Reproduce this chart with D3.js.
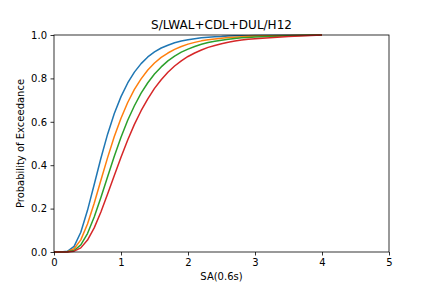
<!DOCTYPE html>
<html>
<head>
<meta charset="utf-8">
<script src="https://cdn.jsdelivr.net/npm/d3@7"></script>
<style>
  body { margin: 0; background: #fff; }
  svg text { font-family: "DejaVu Sans", sans-serif; fill: #000; }
</style>
</head>
<body>
<div id="chart"></div>
<script>
(function () {

// intensity measure values (x)
const sa = [0, 0.1, 0.2, 0.3, 0.4, 0.5, 0.6, 0.7, 0.8, 0.9, 1.0,
  1.1, 1.2, 1.3, 1.4, 1.5, 1.6, 1.7, 1.8, 1.9, 2.0,
  2.1, 2.2, 2.3, 2.4, 2.5, 2.6, 2.7, 2.8, 2.9, 3.0, 3.5, 4.0];

// probability of exceedance, one list per curve
const blue = [0, 0, 0.003, 0.026, 0.091, 0.192, 0.311, 0.432, 0.543, 0.638, 0.716,
  0.779, 0.829, 0.868, 0.899, 0.922, 0.940, 0.953, 0.964, 0.972, 0.978,
  0.983, 0.987, 0.990, 0.992, 0.993, 0.995, 0.996, 0.997, 0.997, 0.998, 0.999, 1.0];
const orange = [0, 0, 0.001, 0.015, 0.056, 0.129, 0.225, 0.331, 0.435, 0.532, 0.616,
  0.689, 0.749, 0.798, 0.839, 0.871, 0.897, 0.917, 0.934, 0.947, 0.958,
  0.966, 0.973, 0.978, 0.982, 0.985, 0.988, 0.990, 0.992, 0.994, 0.995, 0.998, 1.0];
const green = [0, 0, 0.001, 0.007, 0.033, 0.085, 0.161, 0.251, 0.347, 0.441, 0.529,
  0.607, 0.674, 0.732, 0.780, 0.820, 0.853, 0.881, 0.903, 0.921, 0.935,
  0.947, 0.957, 0.965, 0.971, 0.976, 0.980, 0.984, 0.987, 0.989, 0.991, 0.996, 1.0];
const red = [0, 0, 0, 0.004, 0.019, 0.055, 0.111, 0.184, 0.267, 0.353, 0.437,
  0.516, 0.588, 0.651, 0.706, 0.754, 0.794, 0.828, 0.857, 0.881, 0.901,
  0.917, 0.931, 0.943, 0.952, 0.960, 0.967, 0.972, 0.977, 0.980, 0.983, 0.993, 1.0];

const series = [blue, orange, green, red];
const colors = ["#1f77b4", "#ff7f0e", "#2ca02c", "#d62728"];

const xTicks = [0, 1, 2, 3, 4, 5];
const yTicks = [0, 0.2, 0.4, 0.6, 0.8, 1.0];

const W = 432, H = 288;
const margin = {top: 35, right: 43, bottom: 36, left: 54};
const width = W - margin.left - margin.right,
  height = H - margin.top - margin.bottom;

const svg = d3.select("#chart").append("svg")
  .attr("width", W)
  .attr("height", H);

const g = svg.append("g")
  .attr("transform", "translate(" + margin.left + "," + margin.top + ")");

const x = d3.scaleLinear().domain([0, 5]).range([0, width]);
const y = d3.scaleLinear().domain([0, 1]).range([height, 0]);

const line = d3.line()
  .x((d, i) => x(sa[i]))
  .y(d => y(d));

// curves
g.append("g")
  .attr("clip-path", null)
  .selectAll("path")
  .data(series)
  .join("path")
  .attr("d", line)
  .attr("fill", "none")
  .attr("stroke", (d, i) => colors[i])
  .attr("stroke-width", 1.5)
  .attr("stroke-linejoin", "round");

// axes
const xAxis = g.append("g")
  .attr("transform", "translate(0," + height + ")")
  .call(d3.axisBottom(x).tickValues(xTicks).tickFormat(d3.format("d"))
    .tickSize(3.5).tickPadding(3.5).tickSizeOuter(0));
const yAxis = g.append("g")
  .call(d3.axisLeft(y).tickValues(yTicks).tickFormat(d3.format(".1f"))
    .tickSize(3.5).tickPadding(3.5).tickSizeOuter(0));

[xAxis, yAxis].forEach(a => {
  a.select(".domain").remove();
  a.selectAll("line").attr("stroke", "#000").attr("stroke-width", 0.8);
  a.selectAll("text").style("font-size", "10px").style("font-family", "DejaVu Sans, sans-serif");
});

// frame
g.append("rect")
  .attr("width", width)
  .attr("height", height)
  .attr("fill", "none")
  .attr("stroke", "#000")
  .attr("stroke-width", 0.8);

// labels
svg.append("text")
  .attr("x", margin.left + width / 2)
  .attr("y", margin.top - 6)
  .attr("text-anchor", "middle")
  .style("font-size", "12px")
  .text("S/LWAL+CDL+DUL/H12");

svg.append("text")
  .attr("x", margin.left + width / 2)
  .attr("y", H - 8)
  .attr("text-anchor", "middle")
  .style("font-size", "10px")
  .text("SA(0.6s)");

svg.append("text")
  .attr("transform", "translate(" + 24 + "," + (margin.top + height / 2) + ") rotate(-90)")
  .attr("text-anchor", "middle")
  .style("font-size", "10px")
  .text("Probability of Exceedance");

})()
</script>
</body>
</html>
